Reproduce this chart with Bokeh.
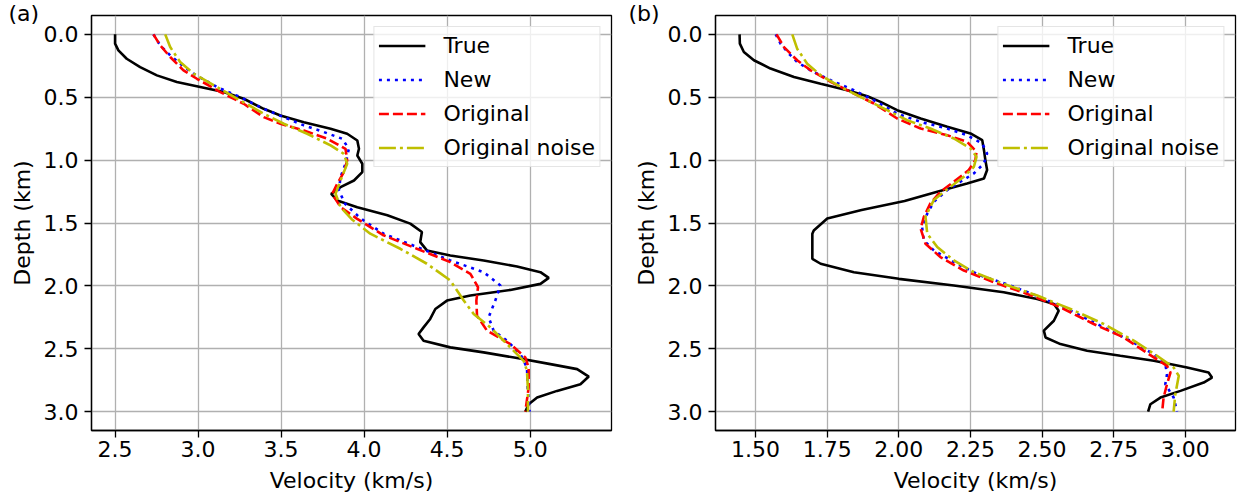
from bokeh.plotting import figure
from bokeh.layouts import row
from bokeh.models import (Range1d, FixedTicker, PrintfTickFormatter, Legend, LegendItem, Title)
from bokeh.embed import file_html
from bokeh.resources import INLINE

FONT = "DejaVu Sans"

# ---------------- Panel (a) ----------------
a_true_d = [0, 0.074, 0.127, 0.194, 0.26, 0.326, 0.379, 0.419, 0.459, 0.512, 0.592, 0.645, 0.698,
            0.751, 0.79, 0.844, 0.91, 0.963, 1.029, 1.095, 1.162, 1.215, 1.268, 1.321, 1.374,
            1.439, 1.505, 1.572, 1.652, 1.718, 1.758, 1.798, 1.846, 1.891, 1.936, 1.984, 2.032,
            2.077, 2.117, 2.184, 2.263, 2.33, 2.383, 2.436, 2.489, 2.529, 2.574, 2.622, 2.662,
            2.721, 2.782, 2.835, 2.888, 2.941, 3.0]
a_true_v = [2.5, 2.5, 2.52, 2.57, 2.651, 2.752, 2.872, 3.013, 3.154, 3.275, 3.395, 3.496, 3.637,
            3.798, 3.898, 3.959, 3.969, 3.959, 3.989, 3.989, 3.939, 3.858, 3.802, 3.838, 3.959,
            4.14, 4.278, 4.348, 4.338, 4.378, 4.519, 4.72, 4.921, 5.062, 5.112, 5.062, 4.881,
            4.64, 4.499, 4.429, 4.398, 4.358, 4.328, 4.358, 4.519, 4.72, 4.921, 5.122, 5.283,
            5.353, 5.303, 5.162, 5.042, 4.991, 4.971]

a_new_d = [0, 0.088, 0.167, 0.233, 0.313, 0.419, 0.499, 0.592, 0.658, 0.724, 0.777, 0.83, 0.91,
           1.029, 1.135, 1.241, 1.347, 1.44, 1.479, 1.585, 1.691, 1.798, 1.891, 1.997, 2.117,
           2.25, 2.356, 2.436, 2.543, 2.649, 2.809, 3.0]
a_new_v = [2.731, 2.772, 2.832, 2.892, 2.973, 3.114, 3.254, 3.395, 3.516, 3.637, 3.758, 3.868,
           3.908, 3.888, 3.858, 3.848, 3.885, 3.96, 3.996, 4.117, 4.318, 4.519, 4.72, 4.821,
           4.79, 4.75, 4.78, 4.861, 4.941, 4.981, 4.985, 4.997]

a_orig_d = [0, 0.088, 0.18, 0.286, 0.353, 0.459, 0.552, 0.658, 0.711, 0.764, 0.83, 0.91, 1.003,
            1.095, 1.188, 1.268, 1.374, 1.465, 1.598, 1.705, 1.811, 1.904, 2.011, 2.117, 2.237,
            2.356, 2.463, 2.569, 2.649, 2.809, 3.0]
a_orig_v = [2.731, 2.772, 2.832, 2.912, 2.993, 3.134, 3.275, 3.395, 3.496, 3.637, 3.778, 3.888,
            3.898, 3.878, 3.838, 3.808, 3.858, 3.956, 4.117, 4.318, 4.519, 4.64, 4.686, 4.676,
            4.68, 4.74, 4.881, 4.971, 4.991, 4.991, 4.971]

a_noise_d = [0, 0.101, 0.22, 0.313, 0.419, 0.525, 0.631, 0.711, 0.79, 0.883, 0.95, 1.029, 1.162,
             1.268, 1.374, 1.47, 1.585, 1.705, 1.824, 1.957, 2.117, 2.223, 2.33, 2.463, 2.596,
             2.676, 2.835, 3.0]
a_noise_v = [2.802, 2.832, 2.892, 2.973, 3.114, 3.254, 3.395, 3.516, 3.657, 3.798, 3.878, 3.898,
             3.858, 3.828, 3.858, 3.925, 4.037, 4.218, 4.378, 4.519, 4.6, 4.66, 4.76, 4.861,
             4.961, 4.981, 4.987, 4.987]

# ---------------- Panel (b) ----------------
b_true_d = [0, 0.074, 0.14, 0.206, 0.272, 0.339, 0.392, 0.444, 0.492, 0.537, 0.603, 0.669, 0.735,
            0.788, 0.841, 0.921, 1.0, 1.079, 1.146, 1.185, 1.251, 1.325, 1.396, 1.465, 1.559,
            1.585, 1.785, 1.824, 1.891, 1.944, 1.997, 2.051, 2.104, 2.144, 2.197, 2.277, 2.356,
            2.41, 2.463, 2.516, 2.556, 2.596, 2.649, 2.689, 2.729, 2.769, 2.835, 2.888, 2.941, 3.0]
b_true_v = [1.444, 1.445, 1.459, 1.494, 1.552, 1.634, 1.727, 1.82, 1.89, 1.936, 1.994, 2.076,
            2.169, 2.25, 2.291, 2.297, 2.302, 2.308, 2.297, 2.238, 2.134, 2.02, 1.87, 1.75, 1.703,
            1.698, 1.698, 1.727, 1.843, 2.0, 2.192, 2.366, 2.483, 2.541, 2.558, 2.541, 2.506,
            2.512, 2.564, 2.657, 2.773, 2.89, 3.006, 3.081, 3.093, 3.064, 2.983, 2.913, 2.878, 2.87]

b_new_d = [0, 0.074, 0.153, 0.22, 0.286, 0.365, 0.444, 0.524, 0.63, 0.696, 0.749, 0.802, 0.868,
           0.947, 1.026, 1.106, 1.172, 1.238, 1.331, 1.426, 1.532, 1.638, 1.718, 1.811, 1.918,
           1.997, 2.09, 2.197, 2.316, 2.436, 2.543, 2.622, 2.702, 2.782, 2.888, 3.0]
b_new_v = [1.57, 1.587, 1.616, 1.645, 1.692, 1.762, 1.843, 1.913, 1.994, 2.076, 2.169, 2.238,
           2.291, 2.308, 2.297, 2.262, 2.215, 2.169, 2.122, 2.099, 2.081, 2.087, 2.122, 2.192,
           2.285, 2.39, 2.494, 2.599, 2.703, 2.808, 2.89, 2.93, 2.936, 2.93, 2.959, 2.971]

b_orig_d = [0, 0.101, 0.206, 0.286, 0.378, 0.471, 0.55, 0.669, 0.749, 0.802, 0.854, 0.934, 1.0,
            1.079, 1.172, 1.251, 1.344, 1.452, 1.545, 1.665, 1.771, 1.878, 1.971, 2.064, 2.17,
            2.303, 2.41, 2.569, 2.636, 2.689, 2.782, 2.888, 3.0]
b_orig_v = [1.573, 1.599, 1.645, 1.692, 1.762, 1.843, 1.913, 1.994, 2.076, 2.169, 2.238, 2.271,
            2.267, 2.244, 2.192, 2.145, 2.11, 2.087, 2.076, 2.093, 2.145, 2.227, 2.331, 2.448,
            2.564, 2.68, 2.785, 2.89, 2.936, 2.948, 2.936, 2.924, 2.919]

b_noise_d = [0, 0.114, 0.233, 0.325, 0.418, 0.511, 0.603, 0.683, 0.749, 0.828, 0.907, 0.974,
             1.053, 1.132, 1.212, 1.317, 1.45, 1.585, 1.691, 1.798, 1.891, 1.984, 2.077, 2.184,
             2.303, 2.436, 2.556, 2.649, 2.715, 2.862, 3.0]
b_noise_v = [1.628, 1.645, 1.68, 1.727, 1.797, 1.878, 1.959, 2.029, 2.11, 2.192, 2.25, 2.271,
             2.262, 2.227, 2.18, 2.122, 2.093, 2.099, 2.134, 2.192, 2.262, 2.366, 2.483, 2.599,
             2.715, 2.82, 2.901, 2.959, 2.977, 2.965, 2.959]

series_names = ["True", "New", "Original", "Original noise"]
depth_ticks = [0.0, 0.5, 1.0, 1.5, 2.0, 2.5, 3.0]
a_vel_ticks = [2.5, 3.0, 3.5, 4.0, 4.5, 5.0]
b_vel_ticks = [1.50, 1.75, 2.00, 2.25, 2.50, 2.75, 3.00]

STYLES = [
    dict(line_color="#000000", line_dash="solid"),
    dict(line_color="#0000ff", line_dash="3 5"),
    dict(line_color="#ff0000", line_dash="10 4"),
    dict(line_color="#bfbf00", line_dash="17 4 3 4"),
]

H = 501
TOP = 15
BOTTOM = 71
Y0, Y1 = 3.15, -0.15


def make_panel(tag, curves, xr, xticks, xfmt, width, left, right):
    p = figure(width=width, height=H, output_backend="svg", toolbar_location=None,
               x_range=Range1d(*xr), y_range=Range1d(Y0, Y1),
               min_border_left=left, min_border_right=right, min_border_top=TOP,
               min_border_bottom=BOTTOM)
    p.background_fill_color = "white"
    p.border_fill_color = "white"
    p.outline_line_color = "black"
    p.outline_line_width = 1.3
    p.outline_line_alpha = 1.0

    for ax in (p.xaxis[0], p.yaxis[0]):
        ax.axis_line_color = "black"
        ax.axis_line_width = 1.3
        ax.major_tick_out = 7
        ax.major_tick_in = 0
        ax.major_tick_line_width = 1.3
        ax.minor_tick_line_color = None
        ax.major_label_text_font = FONT
        ax.major_label_text_font_size = "22px"
        ax.major_label_text_color = "black"
        ax.axis_label_text_font = FONT
        ax.axis_label_text_font_size = "22px"
        ax.axis_label_text_font_style = "normal"
        ax.axis_label_text_color = "black"

    p.xaxis.ticker = FixedTicker(ticks=xticks)
    p.xaxis.formatter = PrintfTickFormatter(format=xfmt)
    p.yaxis.ticker = FixedTicker(ticks=depth_ticks)
    p.yaxis.formatter = PrintfTickFormatter(format="%.1f")
    p.xaxis.axis_label = "Velocity (km/s)"
    p.yaxis.axis_label = "Depth (km)"
    p.xaxis.major_label_standoff = 3
    p.xaxis.axis_label_standoff = 8
    p.yaxis.major_label_standoff = 6
    p.yaxis.axis_label_standoff = 6

    for g in (p.xgrid[0], p.ygrid[0]):
        g.grid_line_color = "#b0b0b0"
        g.grid_line_width = 1.3
    p.xgrid.ticker = FixedTicker(ticks=xticks)
    p.ygrid.ticker = FixedTicker(ticks=depth_ticks)

    items = []
    for name, (vs, ds), st in zip(series_names, curves, STYLES):
        r = p.line(vs, ds, line_width=2.6, line_cap="butt", **st)
        items.append(LegendItem(label=name, renderers=[r]))

    leg = Legend(items=items, location="top_right")
    leg.margin = 11
    leg.padding = 4
    leg.spacing = 5
    leg.label_height = 29
    leg.glyph_height = 29
    leg.glyph_width = 47
    leg.label_standoff = 18
    leg.label_text_font = FONT
    leg.label_text_font_size = "22px"
    leg.label_text_color = "black"
    leg.border_line_color = "#cccccc"
    leg.border_line_width = 1.3
    leg.background_fill_color = "white"
    leg.background_fill_alpha = 0.8
    p.add_layout(leg)

    # panel tag "(a)" / "(b)" in the top-left corner, left of the frame
    p.add_layout(Title(text=tag, align="left", offset=8 - left, standoff=-20,
                       text_font=FONT, text_font_size="22px",
                       text_font_style="normal", text_color="black"), "above")
    return p


pa = make_panel("(a)",
                [(a_true_v, a_true_d), (a_new_v, a_new_d), (a_orig_v, a_orig_d),
                 (a_noise_v, a_noise_d)],
                (2.358, 5.49), a_vel_ticks, "%.1f", 620, 91, 9)
pb = make_panel("(b)",
                [(b_true_v, b_true_d), (b_new_v, b_new_d), (b_orig_v, b_orig_d),
                 (b_noise_v, b_noise_d)],
                (1.36, 3.175), b_vel_ticks, "%.2f", 627, 95, 12)

layout = row(pa, pb, spacing=0)
open("out.html", "w").write(file_html(layout, INLINE))
